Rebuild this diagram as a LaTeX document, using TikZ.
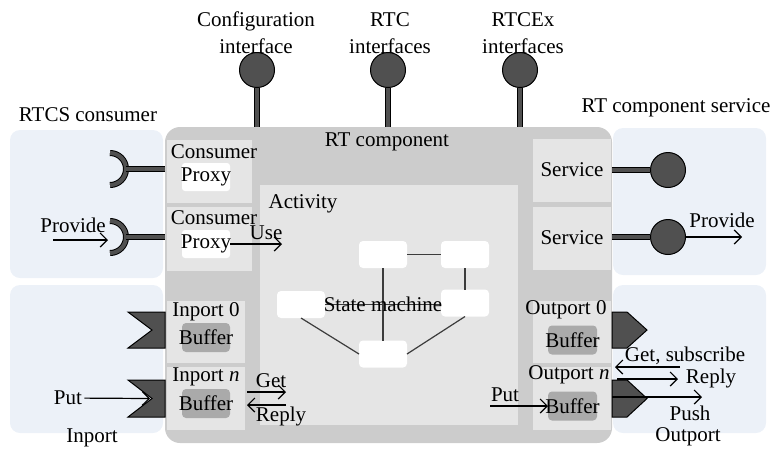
\documentclass[tikz,border=0pt]{standalone}
\usepackage{fontspec}
\setmainfont{Liberation Serif}
\usepackage{tikz}
\usetikzlibrary{arrows.meta}
\definecolor{panelblue}{RGB}{236,241,248}
\definecolor{compgray}{RGB}{204,204,204}
\definecolor{partgray}{RGB}{229,229,229}
\definecolor{bufgray}{RGB}{170,170,170}
\definecolor{darkport}{RGB}{80,80,80}
\definecolor{smline}{RGB}{60,60,60}

\begin{document}
\begin{tikzpicture}[x=0.5pt,y=-0.5pt,font=\fontsize{10.5}{13.5}\selectfont,
  every node/.style={inner sep=1pt},
  panel/.style={fill=panelblue,rounded corners=5pt,inner sep=0,outer sep=0},
  comp/.style={fill=compgray,rounded corners=7.5pt,inner sep=0,outer sep=0},
  part/.style={fill=partgray,inner sep=0,outer sep=0,minimum width=39pt},
  proxy/.style={fill=white,rounded corners=1.5pt,inner sep=0,outer sep=0,minimum width=24pt,minimum height=14pt},
  buf/.style={fill=bufgray,rounded corners=2pt,inner sep=0,outer sep=0,minimum width=24pt,minimum height=14.5pt},
  st/.style={fill=white,rounded corners=2pt,inner sep=0,outer sep=0,minimum width=24pt,minimum height=13.5pt},
  lolly/.style={circle,fill=darkport,draw=black,line width=0.5pt,minimum size=17.5pt,inner sep=0},
  stem/.style={draw=black,line width=0.5pt,double=darkport,double distance=2pt},
  port/.style={fill=darkport,draw=black,line width=0.5pt},
  arr/.style={-{Straight Barb[length=3.5pt,width=7pt]},line width=0.6pt},
  sm/.style={smline,line width=0.6pt}]

\useasboundingbox (0,0) rectangle (774,452);

\node (pcons)[panel,minimum width=76.5pt,minimum height=74pt] at (86.5,204) {};
\node (pin)[panel,minimum width=76.5pt,minimum height=74pt] at (86.5,359) {};
\node (psvc)[panel,minimum width=76.5pt,minimum height=73.5pt] at (689.5,201.5) {};
\node (pout)[panel,minimum width=76.5pt,minimum height=74pt] at (689.5,359) {};

\node (rtc)[comp,minimum width=223.5pt,minimum height=158pt] at (388.5,285) {};
\node (act)[part,minimum width=129pt,minimum height=120pt] at (389,305) {};

\node (cb1)[part,minimum width=42.5pt,minimum height=31.5pt] at (209.5,171.5) {};
\node (cb2)[part,minimum width=42.5pt,minimum height=32pt] at (209.5,239) {};
\node (px1)[proxy] at (206,177) {};
\node (px2)[proxy] at (206,244) {};

\node (sv1)[part,minimum height=31.5pt] at (572,170.5) {};
\node (sv2)[part,minimum height=31.5pt] at (572,238.5) {};

\node (ib1)[part,minimum height=31pt] at (206,332) {};
\node (ib2)[part,minimum height=31.5pt] at (206,398.5) {};
\node (bf1)[buf] at (206,337.5) {};
\node (bf2)[buf] at (206,403.5) {};

\node (ob1)[part,minimum height=31pt] at (572,332) {};
\node (ob2)[part,minimum height=31.5pt] at (572,398.5) {};
\node (bf3)[buf,minimum width=24.5pt] at (572.5,340) {};
\node (bf4)[buf,minimum width=24.5pt] at (572.5,406) {};

\node (sA)[st] at (383,254.5) {};
\node (sB)[st] at (465,254.5) {};
\node (sC)[st] at (301,304.5) {};
\node (sD)[st] at (465,303) {};
\node (sE)[st] at (383,354) {};

\draw[sm] (sA)--(sB);
\draw[sm] (sB)--(sD);
\draw[sm] (sA)--(sE);
\draw[sm] (sC.east)--(sC.east -| sD.west);
\draw[sm] (sC.south)--(sE.west);
\draw[sm] (sD.south)--(sE.east);

\node (ci1)[lolly] at (257,70) {};
\node (ci2)[lolly] at (388,70) {};
\node (ci3)[lolly] at (520,70) {};
\draw[stem] (ci1)--(ci1 |- rtc.north);
\draw[stem] (ci2)--(ci2 |- rtc.north);
\draw[stem] (ci3)--(ci3 |- rtc.north);

\coordinate (sk1) at (110,169);
\coordinate (sk2) at (110,237);
\draw[stem] ([yshift=8pt]sk1) arc[start angle=90,end angle=-90,radius=8pt];
\draw[stem] ([yshift=8pt]sk2) arc[start angle=90,end angle=-90,radius=8pt];
\draw[stem] ([xshift=8pt]sk1)--(sk1 -| rtc.west);
\draw[stem] ([xshift=8pt]sk2)--(sk2 -| rtc.west);

\node (lp1)[lolly] at (668,170) {};
\node (lp2)[lolly] at (668,237) {};
\draw[stem] (lp1)--(lp1 -| rtc.east);
\draw[stem] (lp2)--(lp2 -| rtc.east);

\draw[port] (128,312)--(165,312)--(165,348)--(128,348)--(152,330)--cycle;
\draw[port] (128,380)--(165,380)--(165,417)--(128,417)--(152,398.5)--cycle;
\draw[port] (612,312)--(627,312)--(647,330)--(627,348)--(612,348)--cycle;
\draw[port] (612,380)--(627,380)--(647,398.5)--(627,417)--(612,417)--cycle;

\node (cfg) at (256,33) [align=center] {Configuration\\interface};
\node (rtci) at (390,33) [align=center] {RTC\\interfaces};
\node (rtcx) at (523,33) [align=center] {RTCEx\\interfaces};
\node (lcons) at (88,115) {RTCS consumer};
\node (lsvc) at (676,108) {RT component service};
\node (lin) at (92,438) {Inport};
\node (lout) at (688,437) {Outport};
\node (lrtc) at (387,142) {RT component};
\node (lact) at (303,204) {Activity};
\node (lsm) at (383,304) {State machine};

\node (tc1) at (214,152) {Consumer};
\node (tc2) at (214,218) {Consumer};
\node (tp1) at (206,177) {Proxy};
\node (tp2) at (206,244) {Proxy};
\node (ts1) at (572,170) {Service};
\node (ts2) at (572,238) {Service};
\node (ti1) at (206,312) {Inport 0};
\node (ti2) at (206,377) {Inport \textit{n}};
\node (tb1) at (206,337.5) {Buffer};
\node (tb2) at (206,403.5) {Buffer};
\node (to1) at (566,310) {Outport 0};
\node (to2) at (569,375) {Outport \textit{n}};
\node (tb3) at (572.5,340) {Buffer};
\node (tb4) at (572.5,406) {Buffer};

\coordinate (use) at (282,244);
\draw[arr] (px2.east)--(use);
\node (tuse) at (266,233) {Use};

\coordinate (pvl) at (53,240);
\coordinate (pvle) at (108,240);
\draw[arr] (pvl)--(pvle);
\node (tpvl) at (73,225) {Provide};

\coordinate (pvr) at (742,237);
\draw[arr] (lp2)--(pvr);
\node (tpvr) at (722,220) {Provide};

\node (putl) at (68,398) {Put};
\coordinate (inn) at (150,398.5);
\draw[arr] (putl)--(inn);

\coordinate (g1) at (247,392);
\coordinate (g2) at (286,392);
\coordinate (r1) at (286,405);
\coordinate (r2) at (247,405);
\draw[arr] (g1)--(g2);
\draw[arr] (r1)--(r2);
\node (tget) at (271,381) {Get};
\node (trep) at (281,416) {Reply};

\coordinate (p1) at (490,406);
\draw[arr] (p1)--(bf4.west);
\node (tput) at (505,395) {Put};

\coordinate (gs1) at (680,367);
\coordinate (gs2) at (615,367);
\draw[arr] (gs1)--(gs2);
\node (tgs) at (685,356) {Get, subscribe};

\coordinate (rp1) at (617,379);
\coordinate (rp2) at (678,379);
\draw[arr] (rp1)--(rp2);
\node (trp) at (711,378) {Reply};

\coordinate (ps1) at (612,397);
\coordinate (ps2) at (702,397);
\draw[arr] (ps1)--(ps2);
\node (tps) at (690,413) {Push};

\end{tikzpicture}
\end{document}
